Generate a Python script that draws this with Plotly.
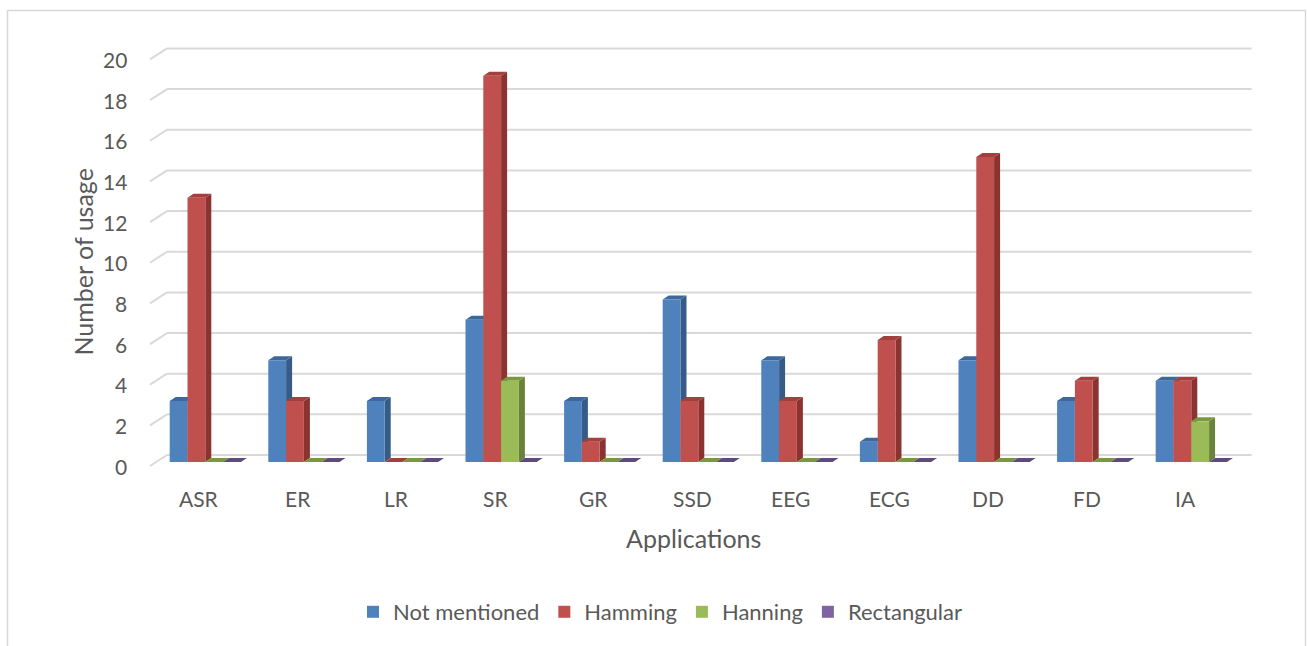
import plotly.graph_objects as go

# ---- data -------------------------------------------------------------
categories = ["ASR", "ER", "LR", "SR", "GR", "SSD", "EEG", "ECG", "DD", "FD", "IA"]
not_mentioned = [3, 5, 3, 7, 3, 8, 5, 1, 5, 3, 4]
hamming = [13, 3, 0, 19, 1, 3, 3, 6, 15, 4, 4]
hanning = [0, 0, 0, 4, 0, 0, 0, 0, 0, 0, 2]
rectangular = [0, 0, 0, 0, 0, 0, 0, 0, 0, 0, 0]
y_ticks = list(range(0, 21, 2))

series = [
    ("Not mentioned", not_mentioned),
    ("Hamming", hamming),
    ("Hanning", hanning),
    ("Rectangular", rectangular),
]
# front / top / side face colours of each series
front_cols = ["#4F81BD", "#C0504D", "#9BBB59", "#8064A2"]
top_cols = ["#3C689B", "#A2403D", "#7A983F", "#5F4A7D"]
side_cols = ["#365B86", "#8A3331", "#69833A", "#56436F"]

# ---- geometry ---------------------------------------------------------
W, H = 1307, 646
ML, MR, MT, MB = 149, 54, 40, 176
PLOT_W = W - ML - MR
PLOT_H = H - MT - MB
X_RANGE = [-0.571, 10.626]
Y_RANGE = [-0.393, 20.76]
PX_X = PLOT_W / (X_RANGE[1] - X_RANGE[0])   # pixels per category
PX_Y = PLOT_H / (Y_RANGE[1] - Y_RANGE[0])   # pixels per unit

def ux(px):
    return px / PX_X

def uy(px):
    return px / PX_Y

def paper_x(px):
    return (px - ML) / PLOT_W

def paper_y(py):
    return (H - MB - py) / PLOT_H

BARGAP = 0.278
BAR_W = (1 - BARGAP) / len(series)
DEPTH_DX, DEPTH_DY = ux(6), uy(4)          # bar depth
BACK_DX, BACK_DY = ux(11), uy(7)           # back wall offset
FRONT_DX, FRONT_DY = ux(-6), uy(-4)        # front edge offset

TEXT = "#595959"
GRID = "#D9D9D9"
FONT = "Lato"

fig = go.Figure()
x_idx = list(range(len(categories)))
for (name, vals), col in zip(series, front_cols):
    fig.add_trace(go.Bar(
        x=x_idx, y=vals, name=name,
        marker=dict(color=col, line=dict(width=0)),
        hovertext=categories,
    ))

shapes = []
# back wall gridlines and their slanted left ends
for v in y_ticks:
    shapes.append(dict(
        type="line", layer="between", xref="x", yref="y",
        x0=-0.5 + BACK_DX, x1=len(categories) - 0.5 + BACK_DX,
        y0=v + BACK_DY, y1=v + BACK_DY,
        line=dict(color=GRID, width=2),
    ))
    shapes.append(dict(
        type="line", layer="between", xref="x", yref="y",
        x0=-0.5 + FRONT_DX, x1=-0.5 + BACK_DX,
        y0=v + FRONT_DY, y1=v + BACK_DY,
        line=dict(color=GRID, width=2),
    ))

# top and side faces that give the columns their depth
for i in x_idx:
    for j, (name, vals) in enumerate(series):
        v = vals[i]
        xl = i - (1 - BARGAP) / 2 + j * BAR_W
        xr = xl + BAR_W
        if v > 0:
            shapes.append(dict(
                type="path", layer="between", xref="x", yref="y",
                path=(f"M{xr},0 L{xr},{v} L{xr + DEPTH_DX},{v + DEPTH_DY} "
                      f"L{xr + DEPTH_DX},{DEPTH_DY} Z"),
                fillcolor=side_cols[j], line=dict(width=0),
            ))
        shapes.append(dict(
            type="path", layer="between", xref="x", yref="y",
            path=(f"M{xl},{v} L{xr},{v} L{xr + DEPTH_DX},{v + DEPTH_DY} "
                  f"L{xl + DEPTH_DX},{v + DEPTH_DY} Z"),
            fillcolor=top_cols[j], line=dict(width=0),
        ))

# chart frame
shapes.append(dict(
    type="rect", layer="above", xref="paper", yref="paper",
    x0=paper_x(7.5), x1=paper_x(1305.5), y0=paper_y(700), y1=paper_y(10.5),
    line=dict(color=GRID, width=1.5), fillcolor="rgba(0,0,0,0)",
))

annotations = []
# value axis labels on the front edge
for v in y_ticks:
    annotations.append(dict(
        x=-0.5 + FRONT_DX, y=v + FRONT_DY, xref="x", yref="y",
        text=str(v), showarrow=False, xanchor="right", yanchor="middle",
        xshift=-21, font=dict(family=FONT, size=21, color=TEXT),
    ))
# category labels
for i, c in enumerate(categories):
    annotations.append(dict(
        x=i + FRONT_DX, y=paper_y(498.5), xref="x", yref="paper",
        text=c, showarrow=False, xanchor="center", yanchor="middle",
        font=dict(family=FONT, size=21, color=TEXT),
    ))
# axis titles
annotations.append(dict(
    x=paper_x(693), y=paper_y(538), xref="paper", yref="paper",
    text="Applications", showarrow=False, xanchor="center", yanchor="middle",
    font=dict(family=FONT, size=25, color=TEXT),
))
annotations.append(dict(
    x=paper_x(82), y=paper_y(262.5), xref="paper", yref="paper",
    text="Number of usage", showarrow=False, textangle=-90,
    xanchor="center", yanchor="middle",
    font=dict(family=FONT, size=25, color=TEXT),
))

fig.update_layout(
    width=W, height=H,
    margin=dict(l=ML, r=MR, t=MT, b=MB),
    paper_bgcolor="white", plot_bgcolor="white",
    barmode="group", bargap=BARGAP, bargroupgap=0,
    xaxis=dict(range=X_RANGE, showgrid=False, zeroline=False,
               showticklabels=False, ticks="", showline=False),
    yaxis=dict(range=Y_RANGE, showgrid=False, zeroline=False,
               showticklabels=False, ticks="", showline=False),
    shapes=shapes,
    annotations=annotations,
    showlegend=True,
    legend=dict(orientation="h", x=paper_x(660), y=paper_y(612),
                xanchor="center", yanchor="middle",
                font=dict(family=FONT, size=22, color=TEXT),
                itemwidth=30, tracegroupgap=0),
)

fig.write_html("out.html")
